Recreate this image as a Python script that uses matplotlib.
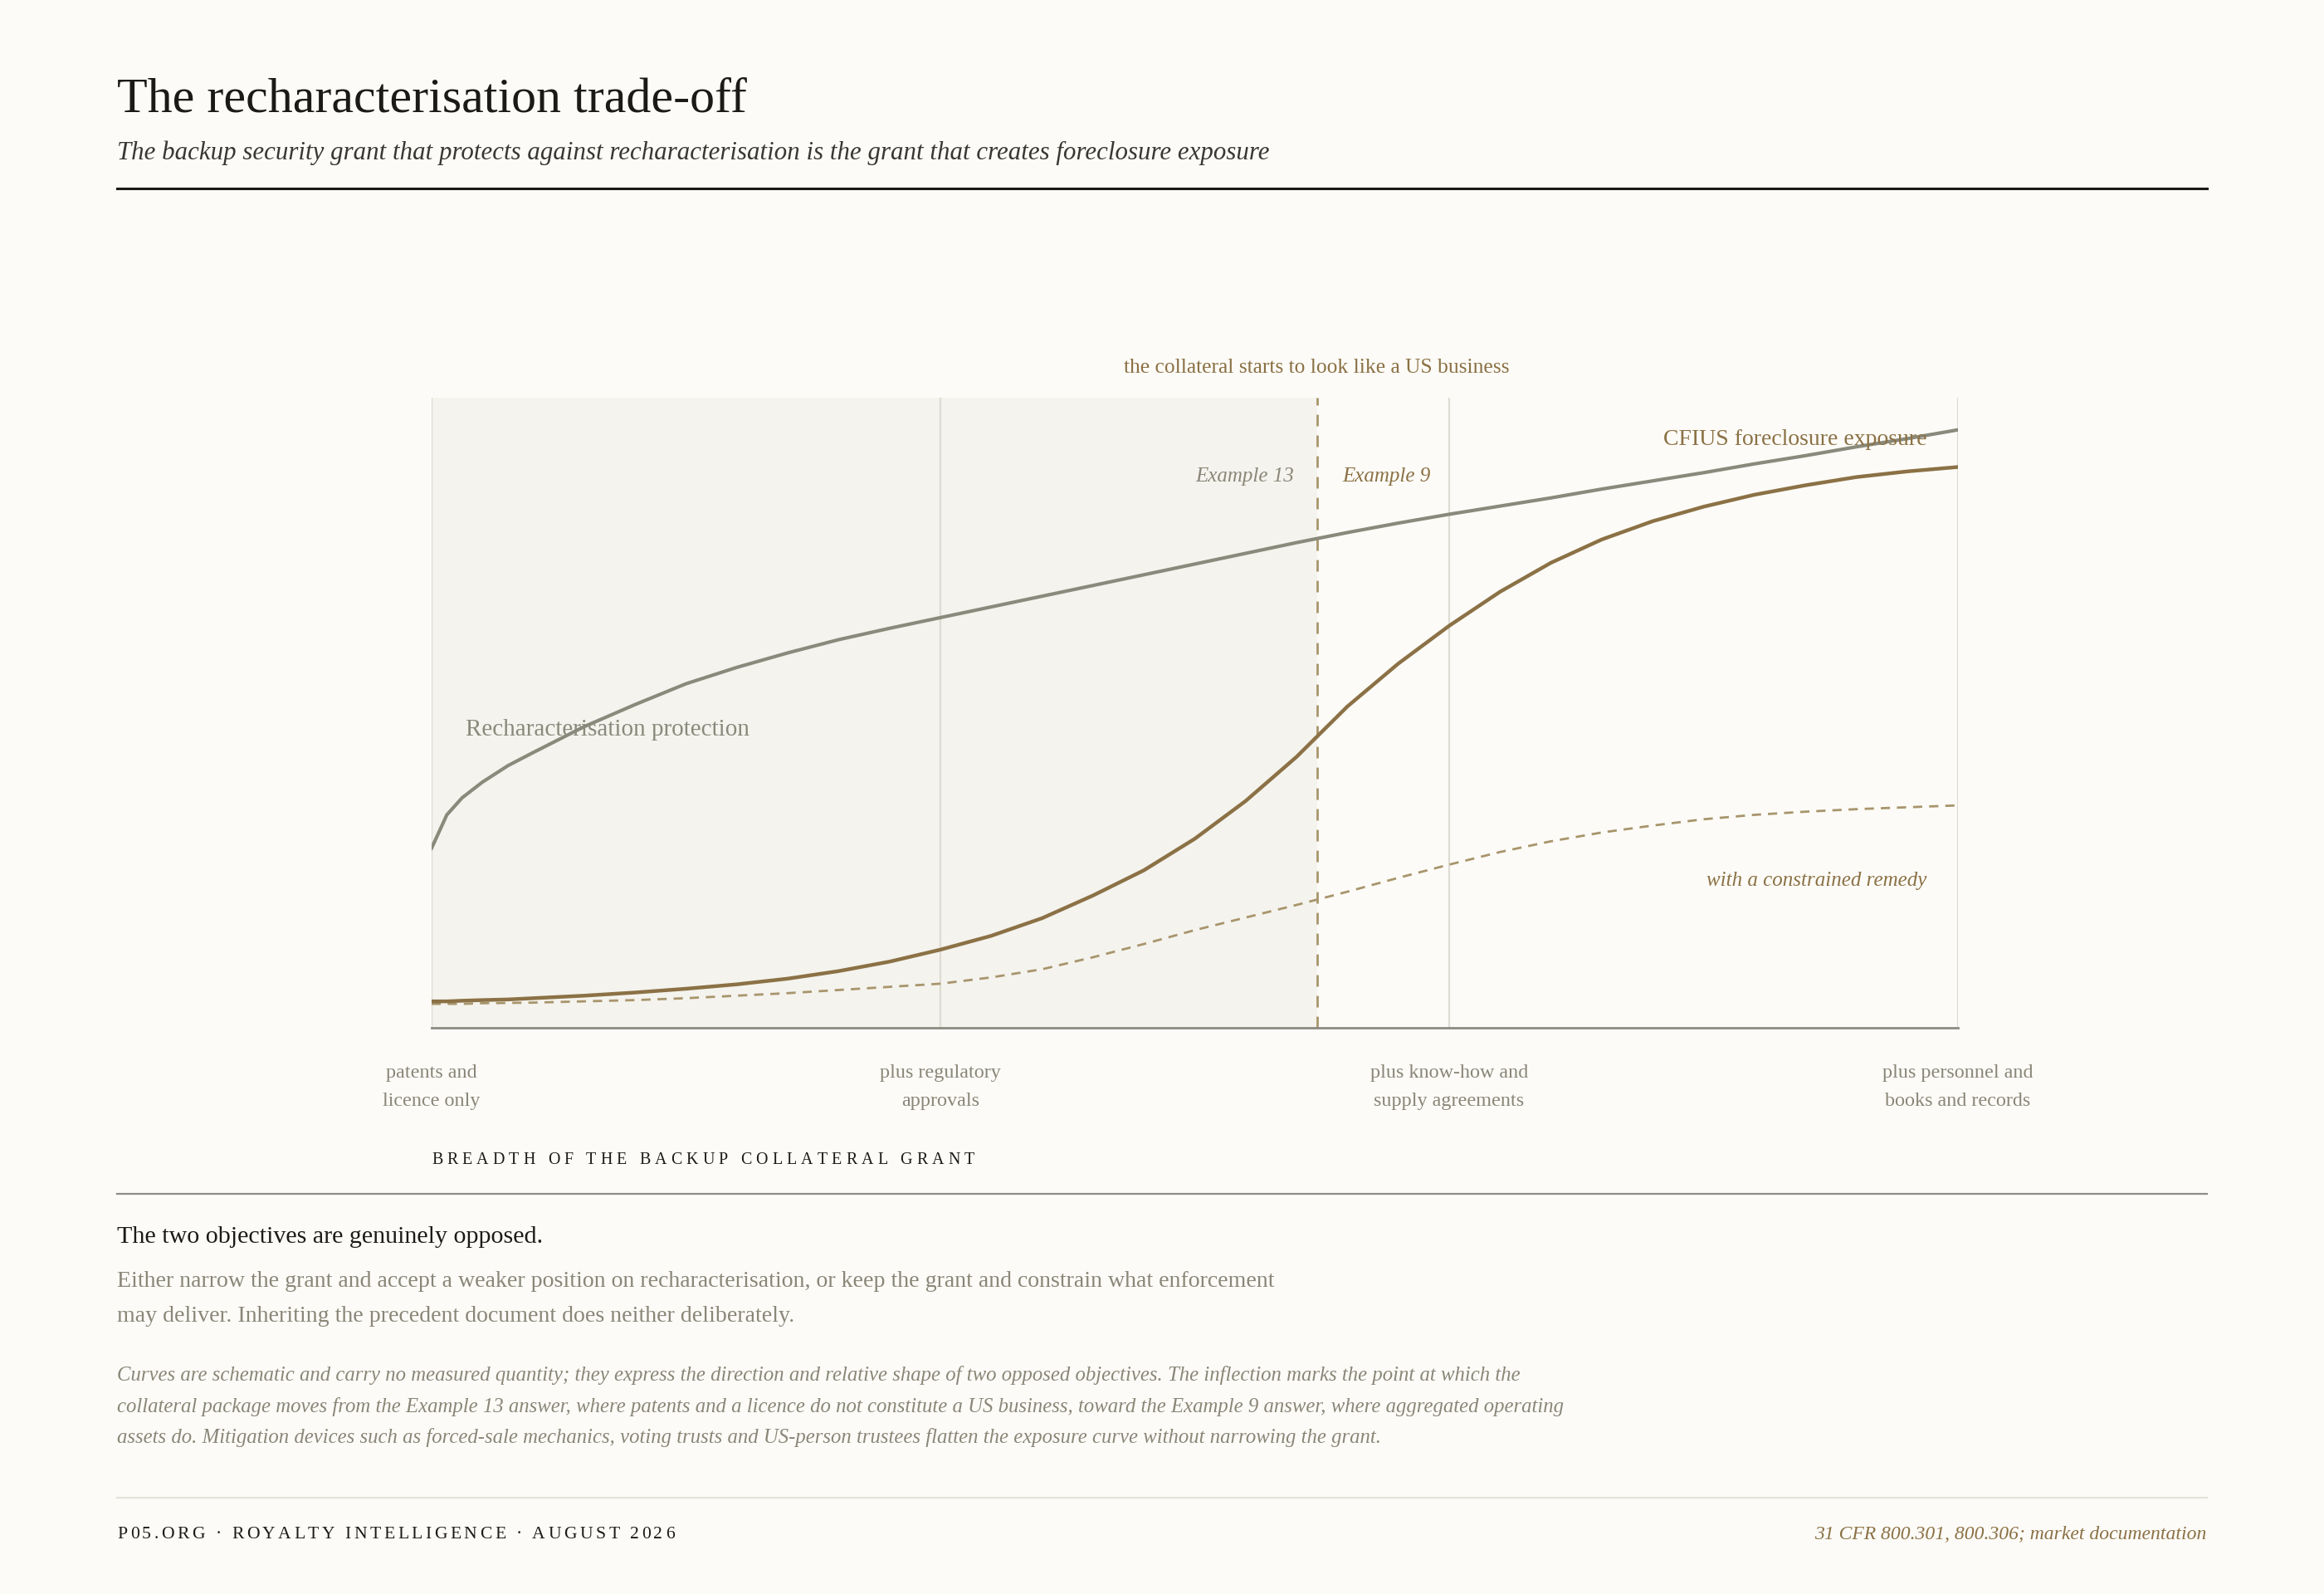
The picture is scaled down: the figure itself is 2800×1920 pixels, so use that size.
import matplotlib
matplotlib.use('Agg')
import matplotlib.pyplot as plt

# colours
BG = '#fcfbf7'
SHADE = '#f4f3ee'
GREY_CURVE = '#8a8a7c'
BROWN = '#8b7145'
BROWN_LIGHT = '#a8956c'
GRID = '#dddbd2'
TEXT_GREY = '#8a8678'
DARK = '#1c1a17'

SERIF = ['Liberation Serif', 'DejaVu Serif']
plt.rcParams['font.family'] = SERIF

# data (schematic)
categories = ['patents and\nlicence only', 'plus regulatory\napprovals',
              'plus know-how and\nsupply agreements', 'plus personnel and\nbooks and records']
cat_pos = [0, 1, 2, 3]
inflection_x = 1.74

xs = [0, 0.03, 0.06, 0.1, 0.15, 0.2, 0.3, 0.4, 0.5, 0.6, 0.7, 0.8, 0.9, 1.0,
      1.1, 1.2, 1.3, 1.4, 1.5, 1.6, 1.7, 1.8, 1.9, 2.0,
      2.1, 2.2, 2.3, 2.4, 2.5, 2.6, 2.7, 2.8, 2.9, 3.0]
protection = [0.285, 0.338, 0.365, 0.390, 0.416, 0.437, 0.478, 0.513, 0.546, 0.572, 0.595, 0.616,
              0.634, 0.651,
              0.668, 0.685, 0.702, 0.719, 0.736, 0.753, 0.770, 0.786, 0.801, 0.815,
              0.828, 0.841, 0.855, 0.868, 0.881, 0.895, 0.908, 0.922, 0.935, 0.949]
exposure = [0.042, 0.042, 0.043, 0.044, 0.045, 0.047, 0.051, 0.056, 0.062, 0.069, 0.078, 0.090,
            0.105, 0.124,
            0.146, 0.174, 0.210, 0.250, 0.300, 0.360, 0.430, 0.510, 0.578, 0.638,
            0.692, 0.738, 0.775, 0.804, 0.827, 0.846, 0.861, 0.874, 0.883, 0.890]
constrained = [0.038, 0.038, 0.038, 0.039, 0.0395, 0.040, 0.042, 0.044, 0.047, 0.051, 0.055, 0.060,
               0.065, 0.070,
               0.080, 0.093, 0.112, 0.133, 0.155, 0.175, 0.195, 0.216, 0.238, 0.259,
               0.279, 0.296, 0.310, 0.321, 0.331, 0.338, 0.343, 0.347, 0.350, 0.353]

fig = plt.figure(figsize=(14, 9.6), dpi=200, facecolor=BG)
renderer = fig.canvas.get_renderer()


def tracked(x, y, s, size, color, width):
    # letter-spaced caps: lay out char by char, stretched to a given width
    chars = []
    total = 0.0
    space_w = size * 0.25 * 200 / 72 / 2800
    for ch in s:
        t = fig.text(x, y, ch, fontsize=size, color=color, ha='left', va='center')
        w = space_w if ch == ' ' else t.get_window_extent(renderer).width / 2800
        chars.append((t, w))
        total += w
    track = (width - total) / (len(s) - 1)
    for t, w in chars:
        t.set_x(x)
        x += w + track


# header
fig.text(0.0504, 0.930, 'The recharacterisation trade-off', fontsize=21.6,
         color=DARK, va='baseline', ha='left')
fig.text(0.0504, 0.900, 'The backup security grant that protects against recharacterisation '
         'is the grant that creates foreclosure exposure', fontsize=11.1,
         style='italic', color='#3a3733', va='baseline', ha='left')
fig.add_artist(plt.Line2D([0.0504, 0.9496], [0.8819, 0.8819], color=DARK, lw=1.1))

# chart
ax = fig.add_axes([0.1857, 0.3552, 0.6568, 0.3953])
ax.set_facecolor(BG)
ax.set_xlim(0, 3)
ax.set_ylim(0, 1)
ax.axvspan(0, inflection_x, color=SHADE, lw=0, zorder=0)
for x in cat_pos:
    ax.axvline(x, color=GRID, lw=0.8, zorder=1)
ax.axvline(inflection_x, color=BROWN_LIGHT, lw=1.0, ls=(0, (5, 4)), zorder=2)

ax.plot(xs, protection, color=GREY_CURVE, lw=1.5, zorder=3, solid_joinstyle='round')
ax.plot(xs, exposure, color=BROWN, lw=1.6, zorder=4, solid_joinstyle='round')
ax.plot(xs, constrained, color=BROWN_LIGHT, lw=1.0, ls=(0, (4, 3)), zorder=3)

for s in ['top', 'left', 'right']:
    ax.spines[s].set_visible(False)
ax.spines['bottom'].set_color('#8c8a82')
ax.spines['bottom'].set_linewidth(1.0)
ax.set_yticks([])
ax.set_xticks(cat_pos)
ax.set_xticklabels(categories, fontsize=8.7, color=TEXT_GREY, linespacing=1.8)
ax.tick_params(axis='x', length=0, pad=16)

# annotations
ax.text(inflection_x, 1.047, 'the collateral starts to look like a US business',
        fontsize=9.2, color=BROWN, ha='center', va='center', clip_on=False)
ax.text(inflection_x - 0.045, 0.875, 'Example 13', fontsize=9, style='italic',
        color=TEXT_GREY, ha='right', va='center')
ax.text(inflection_x + 0.05, 0.875, 'Example 9', fontsize=9, style='italic',
        color=BROWN, ha='left', va='center')
ax.text(0.067, 0.473, 'Recharacterisation protection', fontsize=10.5,
        color=GREY_CURVE, ha='left', va='center')
ax.text(2.939, 0.934, 'CFIUS foreclosure exposure', fontsize=10,
        color=BROWN, ha='right', va='center')
ax.text(2.939, 0.233, 'with a constrained remedy', fontsize=9, style='italic',
        color=BROWN, ha='right', va='center')

tracked(0.1857, 0.2722, 'BREADTH OF THE BACKUP COLLATERAL GRANT', 7.2, DARK, 0.2335)

# lower block
fig.add_artist(plt.Line2D([0.0504, 0.9496], [0.2512, 0.2512], color='#8c8c88', lw=0.8))
fig.text(0.0504, 0.2240, 'The two objectives are genuinely opposed.', fontsize=10.8,
         color=DARK, ha='left', va='center')
fig.text(0.0504, 0.1963, 'Either narrow the grant and accept a weaker position on '
         'recharacterisation, or keep the grant and constrain what enforcement',
         fontsize=10.05, color=TEXT_GREY, ha='left', va='center')
fig.text(0.0504, 0.1740, 'may deliver. Inheriting the precedent document does neither deliberately.',
         fontsize=10.05, color=TEXT_GREY, ha='left', va='center')

note = [
    'Curves are schematic and carry no measured quantity; they express the direction and '
    'relative shape of two opposed objectives. The inflection marks the point at which the',
    'collateral package moves from the Example 13 answer, where patents and a licence do not '
    'constitute a US business, toward the Example 9 answer, where aggregated operating',
    'assets do. Mitigation devices such as forced-sale mechanics, voting trusts and US-person '
    'trustees flatten the exposure curve without narrowing the grant.',
]
for i, line in enumerate(note):
    fig.text(0.0504, 0.1370 - i * 0.0195, line, fontsize=8.9, style='italic',
             color=TEXT_GREY, ha='left', va='center')

fig.add_artist(plt.Line2D([0.0504, 0.9496], [0.0605, 0.0605], color='#e4e2da', lw=0.8))
tracked(0.0504, 0.0370, 'P05.ORG \u00b7 ROYALTY INTELLIGENCE \u00b7 AUGUST 2026', 7.8, DARK, 0.2398)
fig.text(0.9496, 0.0370, '31 CFR 800.301, 800.306; market documentation', fontsize=8.5,
         style='italic', color=BROWN, ha='right', va='center')

fig.savefig('out.png', dpi=200, facecolor=BG)
